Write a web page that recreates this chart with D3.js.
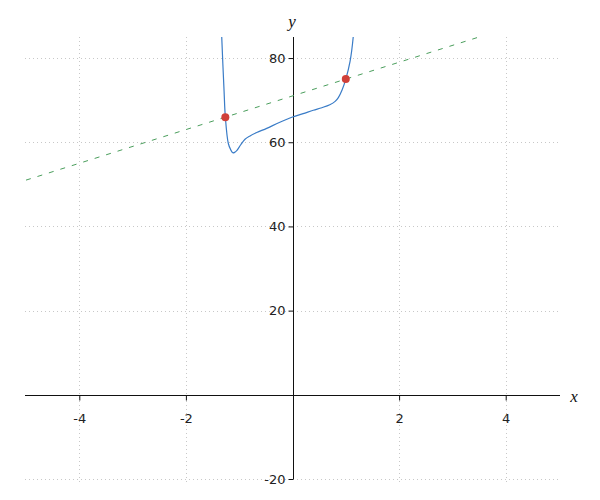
<!DOCTYPE html>
<html><head><meta charset="utf-8">
<script src="https://cdn.jsdelivr.net/npm/d3@7"></script>
<style>body{margin:0;background:#fff}</style>
</head><body>
<svg id="c" width="600" height="500"></svg>
<script>
const curveX = [-1.345, -1.328, -1.284, -1.26, -1.204, -1.159, -1.121, -1.085, -1.046, -0.971, -0.891, -0.797, -0.671, -0.484, -0.248, 0, 0.2, 0.39, 0.55, 0.70, 0.80, 0.86, 0.93, 1.0, 1.08, 1.14, 1.155];
const curveY = [92, 85.1, 72.2, 66.0, 59.7, 58.2, 57.5, 57.6, 58.0, 59.4, 60.7, 61.5, 62.3, 63.3, 64.7, 66.0, 66.8, 67.6, 68.2, 68.9, 69.7, 70.6, 72.4, 75.0, 79.2, 85.1, 88];
const lineX = [-5, 3.5];
const lineY = [51, 85];
const pointX = [-1.26, 1.0];
const pointY = [65.96, 75.0];
const xTicks = [-4, -2, 2, 4];
const yTicks = [-20, 20, 40, 60, 80];

const svg = d3.select("#c");
const x = d3.scaleLinear().domain([-5, 5]).range([26, 559]);
const y = d3.scaleLinear().domain([-20, 85]).range([479, 37]);

// grid
const grid = svg.append("g").attr("stroke", "#c8c8c8").attr("stroke-width", 1).attr("stroke-dasharray", "1,3");
xTicks.forEach(t => grid.append("line").attr("x1", Math.round(x(t)) + 0.5).attr("x2", Math.round(x(t)) + 0.5).attr("y1", 37).attr("y2", 483));
yTicks.forEach(t => grid.append("line").attr("y1", Math.round(y(t)) + 0.5).attr("y2", Math.round(y(t)) + 0.5).attr("x1", 25).attr("x2", 560));

// axes
const fmt = d => String(d);
const xAxis = d3.axisBottom(x).tickValues(xTicks).tickSize(5).tickPadding(13).tickFormat(fmt);
const gx = svg.append("g").attr("transform", `translate(0,${Math.round(y(0)) + 0.5})`).call(xAxis);
gx.select(".domain").attr("d", `M25,0H560`);
const yAxis = d3.axisLeft(y).tickValues(yTicks).tickSize(5).tickPadding(3).tickFormat(fmt);
const gy = svg.append("g").attr("transform", `translate(${Math.round(x(0)) + 0.5},0)`).call(yAxis);
gy.select(".domain").attr("d", `M0,37V479`);
svg.selectAll(".tick text").attr("font-family", "DejaVu Sans, sans-serif").attr("font-size", 13).attr("fill", "#222");
svg.selectAll(".tick line, .domain").attr("stroke", "#111");

svg.append("text").attr("x", 574).attr("y", 402).attr("text-anchor", "middle")
  .attr("font-family", "Liberation Serif, serif").attr("font-style", "italic").attr("font-size", 17).attr("fill", "#111").text("x");
svg.append("text").attr("x", 292).attr("y", 27).attr("text-anchor", "middle")
  .attr("font-family", "Liberation Serif, serif").attr("font-style", "italic").attr("font-size", 17).attr("fill", "#111").text("y");

// clip
svg.append("clipPath").attr("id", "clip").append("rect").attr("x", 25).attr("y", 37).attr("width", 535).attr("height", 442);

const plot = svg.append("g").attr("clip-path", "url(#clip)");
plot.append("path")
  .datum(lineX.map((d, i) => [d, lineY[i]]))
  .attr("d", d3.line().x(d => x(d[0])).y(d => y(d[1])))
  .attr("fill", "none").attr("stroke", "#4a9e5c").attr("stroke-width", 1).attr("stroke-dasharray", "5,7");

plot.append("path")
  .datum(curveX.map((d, i) => [d, curveY[i]]))
  .attr("d", d3.line().x(d => x(d[0])).y(d => y(d[1])).curve(d3.curveCatmullRom.alpha(0.5)))
  .attr("fill", "none").attr("stroke", "#3a7cc7").attr("stroke-width", 1.2);

svg.append("g").selectAll("circle").data(pointX).join("circle")
  .attr("cx", d => x(d)).attr("cy", (d, i) => y(pointY[i])).attr("r", 4).attr("fill", "#d0403a");
</script>
</body></html>
